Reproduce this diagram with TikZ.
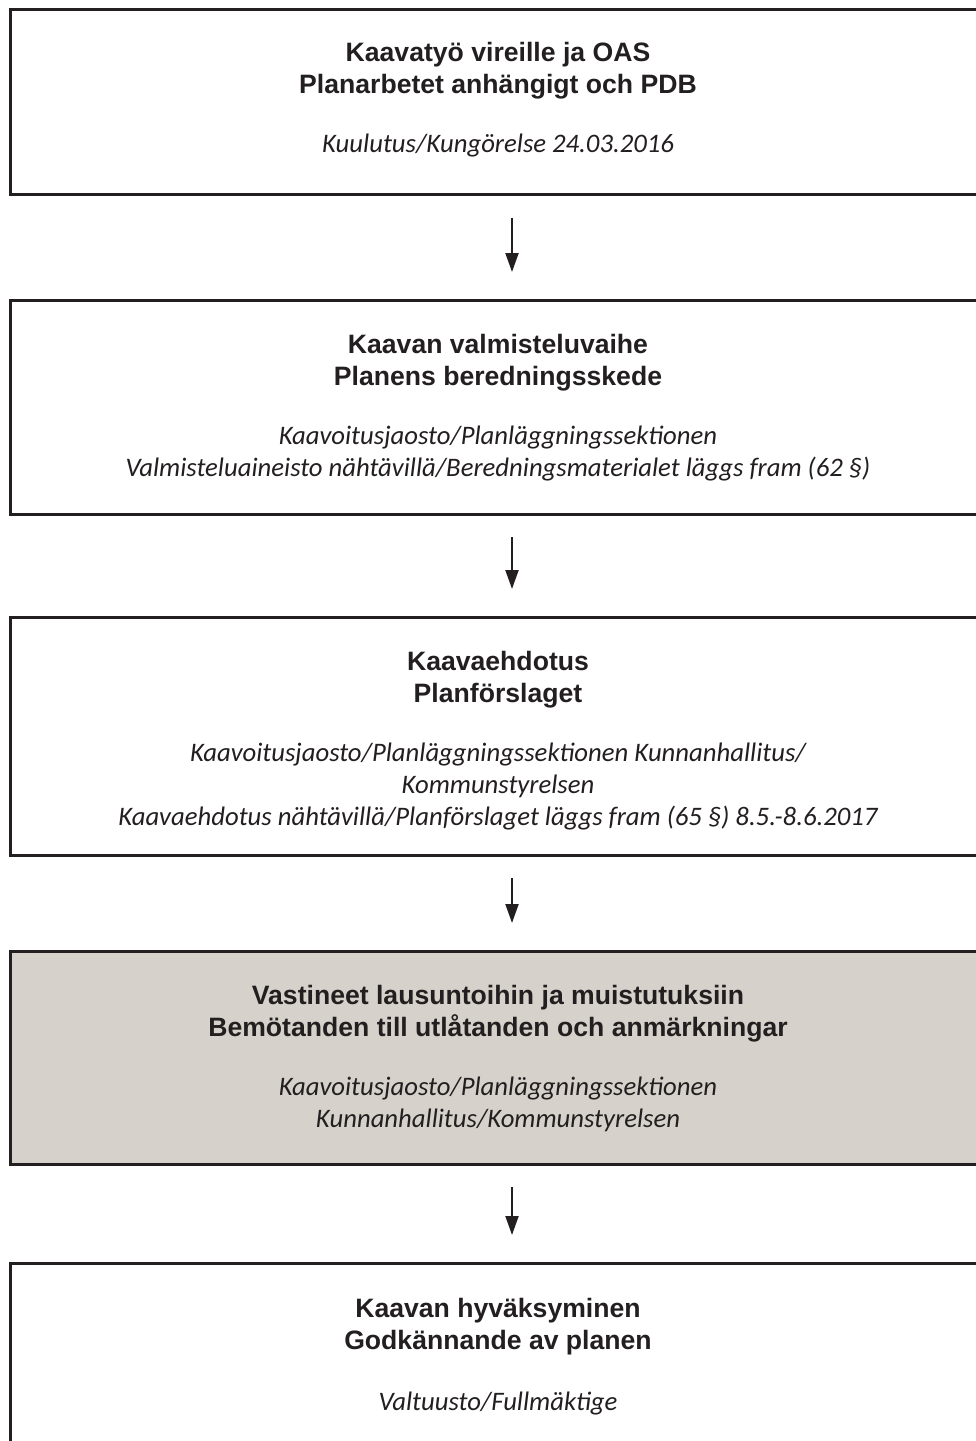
\documentclass[tikz,border=0pt]{standalone}
\usepackage{fontspec}
\usetikzlibrary{arrows.meta}
\newfontfamily\ttlfont{Liberation Sans}[BoldFont={* Bold}]
\newfontfamily\subfontfam{Carlito}
\definecolor{linec}{RGB}{35,31,32}
\definecolor{greyc}{RGB}{214,210,203}
\tikzset{
  box/.style={draw=linec, line width=3pt, anchor=north west, minimum width=990pt, inner sep=0pt, outer sep=0pt, fill=white},
  greybox/.style={box, fill=greyc},
  ttl/.style={font=\ttlfont\bfseries\fontsize{26.6pt}{32pt}\selectfont, text=linec, anchor=base, inner sep=0pt},
  sub/.style={font=\subfontfam\itshape\fontsize{26.7pt}{32pt}\selectfont, text=linec, anchor=base, inner sep=0pt},
  arr/.style={-{Triangle[width=13pt,length=19pt]}, line width=2pt, draw=linec}
}
\begin{document}
\begin{tikzpicture}[x=1pt,y=-1pt]
\useasboundingbox (0,0) rectangle (976,1441);
\clip (0,0) rectangle (976,1441);
% boxes
\node[box, minimum height=185pt] (b1) at (10.5,9.5) {};
\node[box, minimum height=214pt] (b2) at (10.5,300) {};
\node[box, minimum height=238pt] (b3) at (10.5,617) {};
\node[greybox, minimum height=213pt] (b4) at (10.5,951) {};
\node[box, minimum height=200pt] (b5) at (10.5,1263) {};
% box 1
\node[ttl] (t1a) at (498,61) {Kaavatyö vireille ja OAS};
\node[ttl] (t1b) at (498,93) {Planarbetet anhängigt och PDB};
\node[sub] (s1a) at (498,152) {Kuulutus/Kungörelse 24.03.2016};
% box 2
\node[ttl] (t2a) at (498,353) {Kaavan valmisteluvaihe};
\node[ttl] (t2b) at (498,385) {Planens beredningsskede};
\node[sub] (s2a) at (498,444) {Kaavoitusjaosto/Planläggningssektionen};
\node[sub] (s2b) at (498,476) {Valmisteluaineisto nähtävillä/Beredningsmaterialet läggs fram (62 §)};
% box 3
\node[ttl] (t3a) at (498,670) {Kaavaehdotus};
\node[ttl] (t3b) at (498,702) {Planförslaget};
\node[sub] (s3a) at (498,761) {Kaavoitusjaosto/Planläggningssektionen Kunnanhallitus/};
\node[sub] (s3b) at (498,793) {Kommunstyrelsen};
\node[sub] (s3c) at (498,825) {Kaavaehdotus nähtävillä/Planförslaget läggs fram (65 §) 8.5.-8.6.2017};
% box 4
\node[ttl] (t4a) at (498,1004) {Vastineet lausuntoihin ja muistutuksiin};
\node[ttl] (t4b) at (498,1036) {Bemötanden till utlåtanden och anmärkningar};
\node[sub] (s4a) at (498,1095) {Kaavoitusjaosto/Planläggningssektionen};
\node[sub] (s4b) at (498,1127) {Kunnanhallitus/Kommunstyrelsen};
% box 5
\node[ttl] (t5a) at (498,1317) {Kaavan hyväksyminen};
\node[ttl] (t5b) at (498,1349) {Godkännande av planen};
\node[sub] (s5a) at (498,1410) {Valtuusto/Fullmäktige};
% arrows
\draw[arr] ([yshift=-23pt]b1.south west -| 512,0) -- ([yshift=28pt]b2.north west -| 512,0);
\draw[arr] ([yshift=-23pt]b2.south west -| 512,0) -- ([yshift=28pt]b3.north west -| 512,0);
\draw[arr] ([yshift=-23pt]b3.south west -| 512,0) -- ([yshift=28pt]b4.north west -| 512,0);
\draw[arr] ([yshift=-23pt]b4.south west -| 512,0) -- ([yshift=28pt]b5.north west -| 512,0);
\end{tikzpicture}
\end{document}
